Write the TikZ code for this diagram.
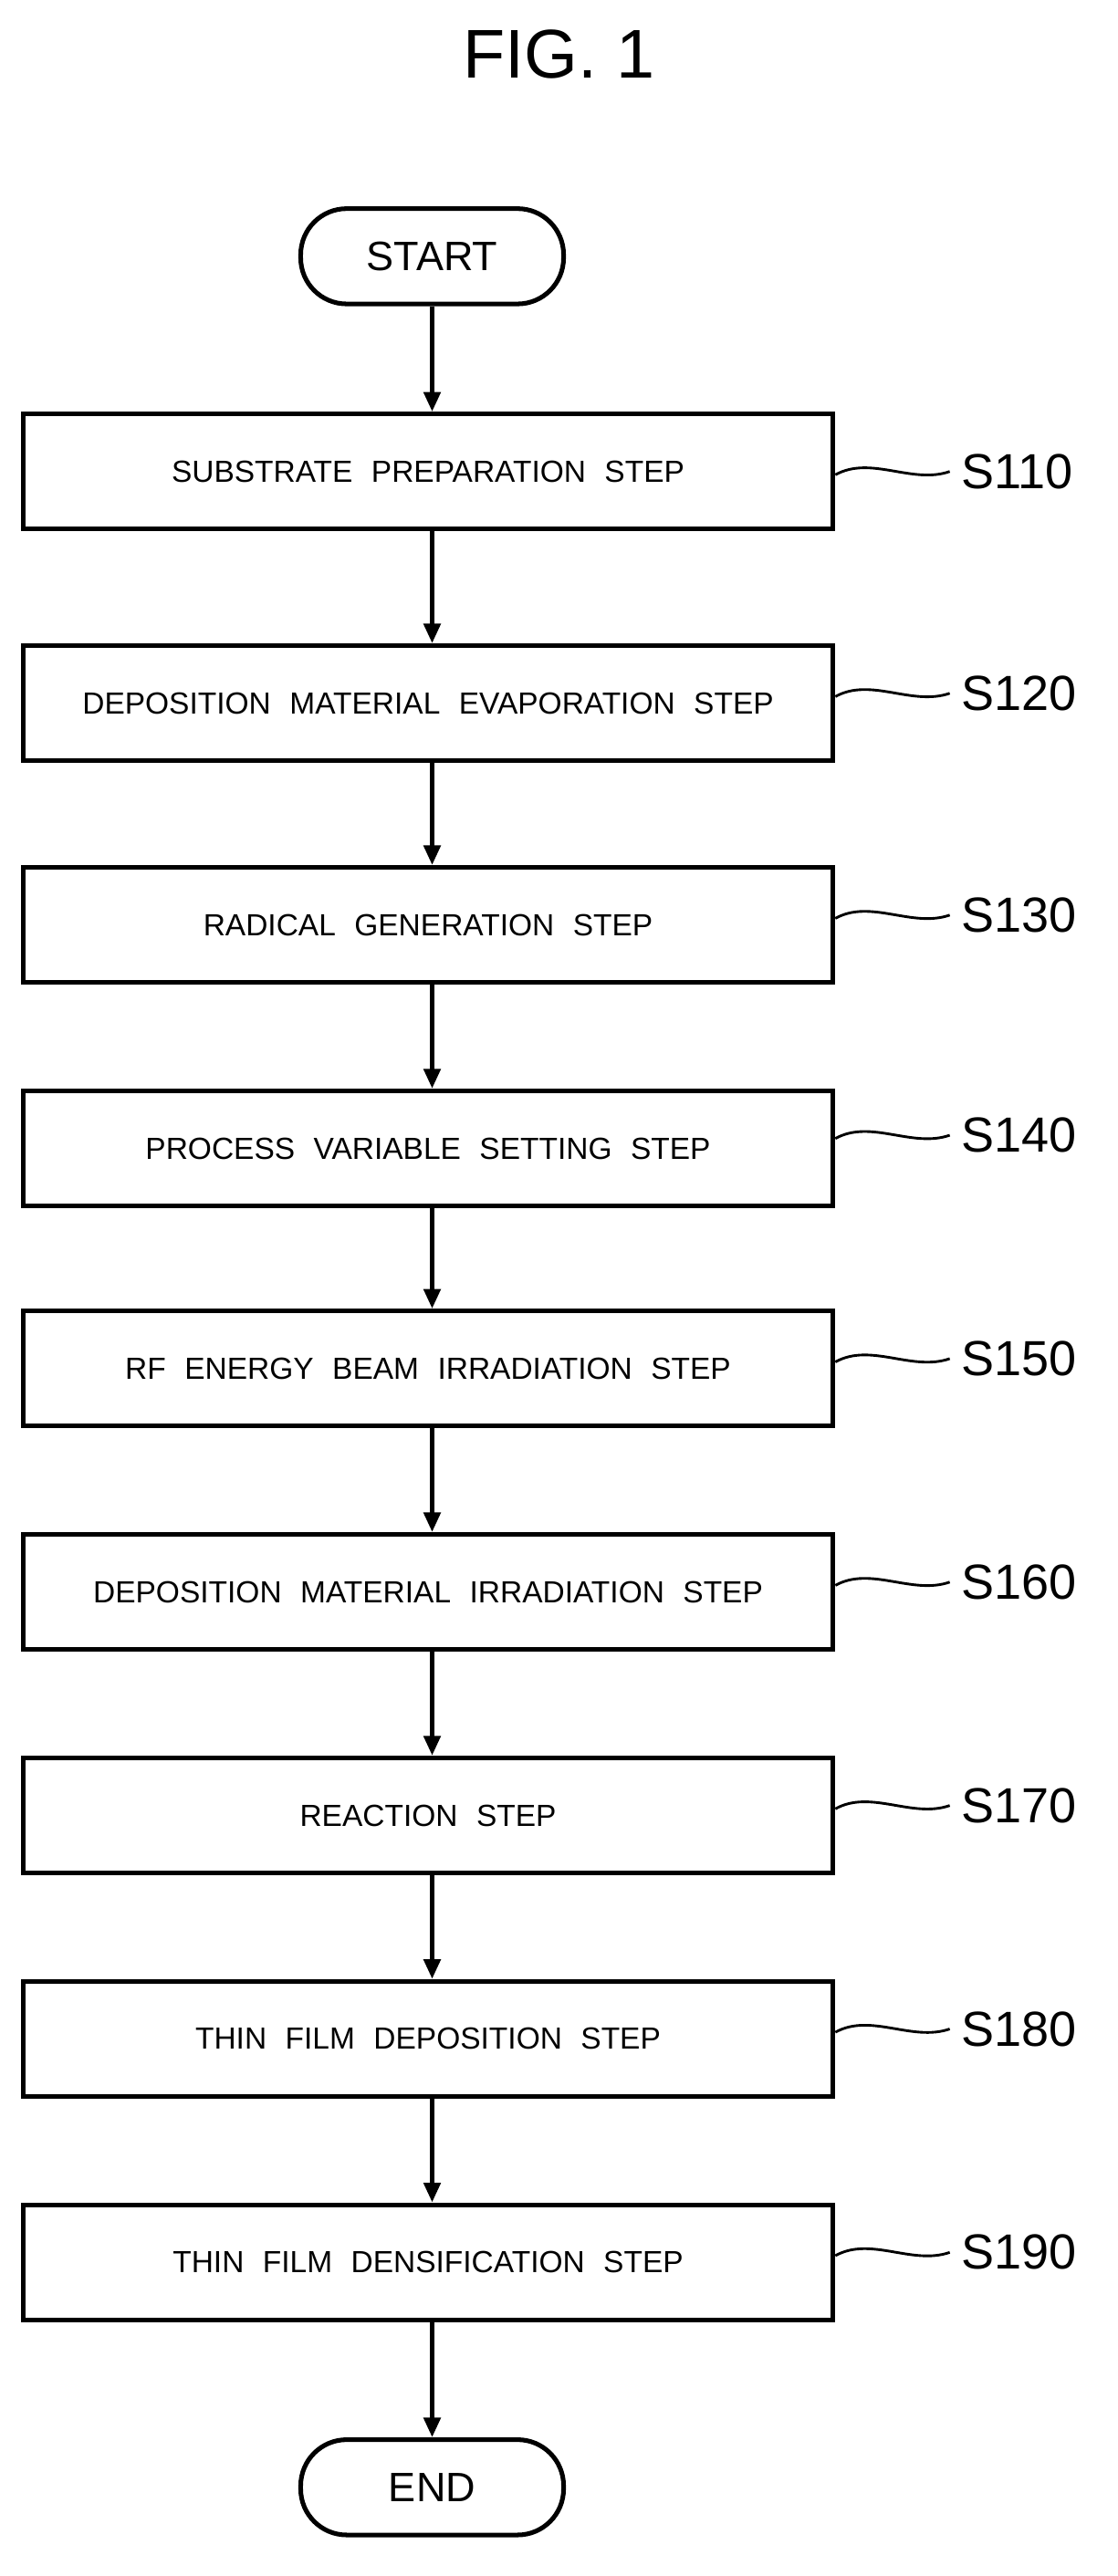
\documentclass[tikz,border=0pt]{standalone}
\usepackage{fontspec}
\setmainfont{Liberation Sans}
\newfontfamily\boxfont[WordSpace=2.2]{Liberation Sans}
\usetikzlibrary{arrows.meta}
\begin{document}
\begin{tikzpicture}[x=0.5pt,y=-0.5pt,
  box/.style={draw,line width=1.4pt,minimum width=246.5pt,minimum height=35pt,inner sep=0pt,text depth=-2.5pt,font=\boxfont\fontsize{9.3}{11}\selectfont},
  term/.style={draw,line width=1.4pt,rounded corners=14pt,minimum width=80pt,minimum height=29pt,inner sep=0pt,font=\fontsize{12.5}{14}\selectfont},
  arr/.style={line width=1.4pt,-{Triangle[length=6pt,width=5pt]}},
  lab/.style={font=\fontsize{15}{17}\selectfont,anchor=west},
  sq/.style={line width=0.8pt}]
\useasboundingbox (0,0) rectangle (680,1568);
\node[font=\fontsize{21}{24}\selectfont] (title) at (340,33) {FIG. 1};
\node[term] (start) at (263,156) {START};
\node[box] (s1) at (260.5,287) {SUBSTRATE PREPARATION STEP};
\node[box] (s2) at (260.5,428) {DEPOSITION MATERIAL EVAPORATION STEP};
\node[box] (s3) at (260.5,563) {RADICAL GENERATION STEP};
\node[box] (s4) at (260.5,699) {PROCESS VARIABLE SETTING STEP};
\node[box] (s5) at (260.5,833) {RF ENERGY BEAM IRRADIATION STEP};
\node[box] (s6) at (260.5,969) {DEPOSITION MATERIAL IRRADIATION STEP};
\node[box] (s7) at (260.5,1105) {REACTION STEP};
\node[box] (s8) at (260.5,1241) {THIN FILM DEPOSITION STEP};
\node[box] (s9) at (260.5,1377) {THIN FILM DENSIFICATION STEP};
\node[term] (end) at (263,1514) {END};
\draw[arr] (start) -- (start|-s1.north);
\foreach \a/\b in {s1/s2,s2/s3,s3/s4,s4/s5,s5/s6,s6/s7,s7/s8,s8/s9}
  \draw[arr] (start|-\a.south) -- (start|-\b.north);
\draw[arr] (start|-s9.south) -- (end);
\foreach \n/\t/\y in {s1/S110/287,s2/S120/422,s3/S130/557,s4/S140/691,s5/S150/827,s6/S160/963,s7/S170/1099,s8/S180/1235,s9/S190/1371}{
  \coordinate (w\n) at (578,\y);
  \draw[sq] (\n.east|-0,\y+2) .. controls (530,\y-10) and (555,\y+8) .. (w\n);
  \node[lab] (l\n) at (w\n) {\t};
}
\end{tikzpicture}
\end{document}
